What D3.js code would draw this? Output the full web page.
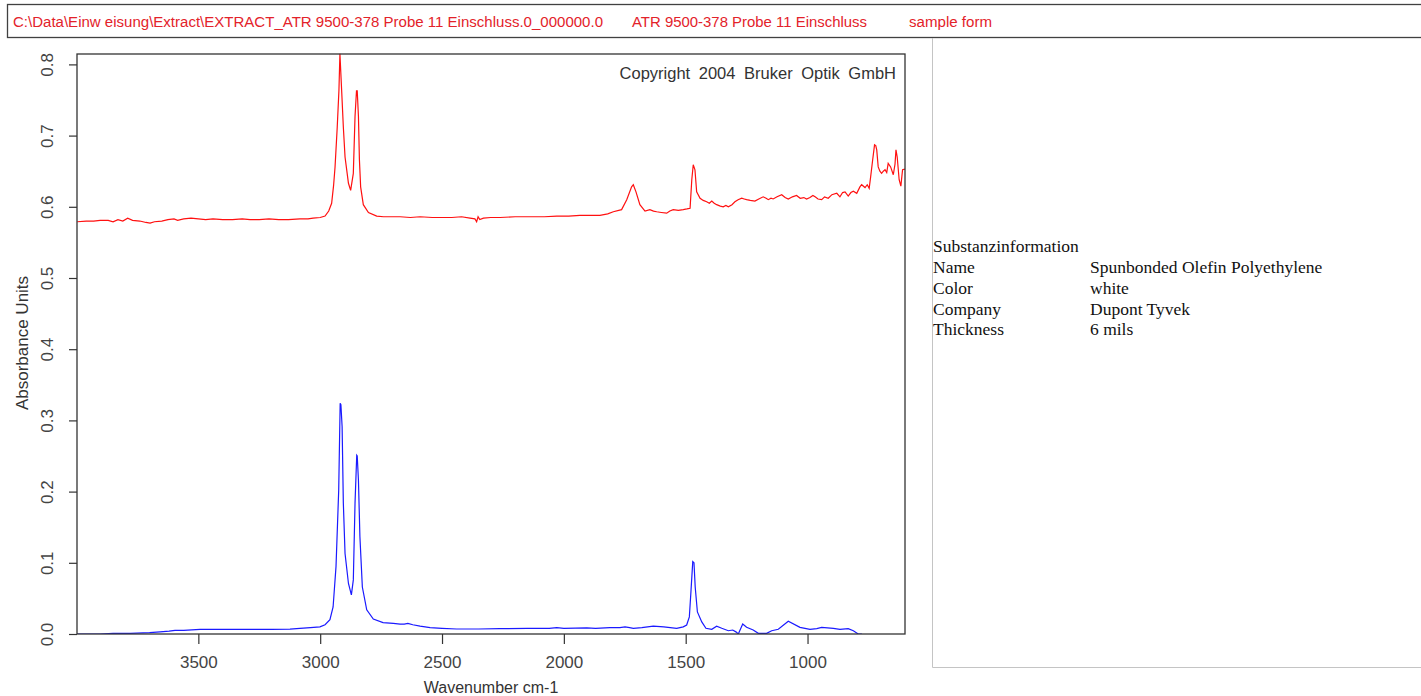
<!DOCTYPE html>
<html>
<head>
<meta charset="utf-8">
<script src="https://cdn.jsdelivr.net/npm/d3@7"></script>
<style>
  html, body { margin: 0; padding: 0; background: #fff; }
  svg { display: block; }
</style>
</head>
<body>
<div id="chart"></div>
<script>
// header line of the report
const headerTexts = [
  "C:\\Data\\Einw eisung\\Extract\\EXTRACT_ATR 9500-378 Probe 11 Einschluss.0_000000.0",
  "ATR 9500-378 Probe 11 Einschluss",
  "sample form"
];

// substance info panel
const infoTitle = "Substanzinformation";
const infoKeys = ["Name", "Color", "Company", "Thickness"];
const infoValues = ["Spunbonded Olefin Polyethylene", "white", "Dupont Tyvek", "6 mils"];

const xTicks = [3500, 3000, 2500, 2000, 1500, 1000];
const yTicks = [0.0, 0.1, 0.2, 0.3, 0.4, 0.5, 0.6, 0.7, 0.8];

// sample spectrum (red), [wavenumber, absorbance]
const redSpectrum = [
  [3997, 0.579], [3960, 0.580], [3930, 0.580], [3903, 0.581], [3870, 0.581], [3850, 0.579],
  [3830, 0.582], [3810, 0.580], [3790, 0.584], [3770, 0.581], [3740, 0.580], [3715, 0.578],
  [3698, 0.577], [3680, 0.579], [3650, 0.580], [3625, 0.582], [3600, 0.583], [3585, 0.581],
  [3560, 0.583], [3530, 0.584], [3500, 0.583], [3470, 0.582], [3440, 0.583], [3400, 0.582],
  [3360, 0.582], [3320, 0.583], [3288, 0.582], [3250, 0.582], [3210, 0.583], [3170, 0.582],
  [3130, 0.582], [3083, 0.583], [3050, 0.583], [3029, 0.584], [3000, 0.585], [2980, 0.587],
  [2965, 0.594], [2953, 0.605], [2945, 0.630], [2939, 0.656], [2930, 0.712], [2923, 0.764],
  [2919, 0.815], [2912, 0.764], [2905, 0.712], [2898, 0.670], [2884, 0.633], [2875, 0.623],
  [2864, 0.647], [2857, 0.727], [2851, 0.763], [2848, 0.763], [2843, 0.727], [2839, 0.666],
  [2834, 0.628], [2823, 0.603], [2802, 0.592], [2768, 0.587], [2740, 0.586], [2700, 0.586],
  [2672, 0.586], [2630, 0.585], [2590, 0.586], [2540, 0.585], [2500, 0.585], [2460, 0.585],
  [2420, 0.586], [2385, 0.584], [2365, 0.583], [2358, 0.579], [2352, 0.586], [2345, 0.582],
  [2330, 0.584], [2300, 0.585], [2262, 0.585], [2200, 0.586], [2140, 0.586], [2080, 0.586],
  [2029, 0.587], [1980, 0.587], [1934, 0.588], [1890, 0.588], [1852, 0.588], [1820, 0.590],
  [1797, 0.593], [1763, 0.596], [1742, 0.610], [1722, 0.628], [1715, 0.631], [1704, 0.621],
  [1688, 0.603], [1667, 0.594], [1647, 0.596], [1632, 0.594], [1619, 0.593], [1600, 0.592],
  [1578, 0.591], [1565, 0.594], [1551, 0.596], [1530, 0.595], [1510, 0.596], [1495, 0.597],
  [1482, 0.598], [1475, 0.638], [1469, 0.659], [1462, 0.652], [1455, 0.621], [1441, 0.612],
  [1428, 0.609], [1414, 0.607], [1403, 0.605], [1393, 0.608], [1383, 0.605], [1373, 0.603],
  [1358, 0.601], [1346, 0.600], [1335, 0.602], [1325, 0.600], [1310, 0.603], [1298, 0.607],
  [1285, 0.610], [1270, 0.612], [1260, 0.611], [1250, 0.610], [1235, 0.609], [1216, 0.608],
  [1200, 0.611], [1182, 0.614], [1170, 0.612], [1161, 0.610], [1150, 0.612], [1141, 0.611],
  [1125, 0.614], [1106, 0.617], [1092, 0.613], [1079, 0.611], [1062, 0.614], [1045, 0.616],
  [1030, 0.612], [1015, 0.613], [1004, 0.611], [990, 0.613], [978, 0.616], [969, 0.614],
  [957, 0.611], [942, 0.610], [930, 0.614], [915, 0.612], [900, 0.617], [880, 0.619],
  [867, 0.614], [856, 0.620], [846, 0.621], [833, 0.615], [822, 0.620], [812, 0.622],
  [798, 0.619], [785, 0.628], [778, 0.631], [764, 0.627], [755, 0.631], [747, 0.626],
  [741, 0.642], [733, 0.665], [725, 0.687], [720, 0.686], [716, 0.680], [710, 0.656],
  [703, 0.650], [696, 0.647], [689, 0.650], [682, 0.652], [675, 0.648], [669, 0.661],
  [659, 0.656], [648, 0.645], [641, 0.660], [637, 0.680], [632, 0.670], [624, 0.638],
  [617, 0.629], [610, 0.652], [600, 0.653]
];

// reference spectrum (blue), [wavenumber, absorbance]
const blueSpectrum = [
  [3997, 0.000], [3903, 0.000], [3850, 0.001], [3780, 0.001], [3700, 0.002], [3657, 0.003],
  [3620, 0.004], [3596, 0.005], [3560, 0.005], [3493, 0.0065], [3400, 0.0065], [3288, 0.0065],
  [3200, 0.0066], [3124, 0.0068], [3083, 0.008], [3040, 0.009], [3001, 0.010], [2980, 0.013],
  [2960, 0.020], [2947, 0.038], [2935, 0.095], [2924, 0.202], [2918, 0.324], [2915, 0.322],
  [2910, 0.291], [2905, 0.184], [2898, 0.113], [2884, 0.071], [2872, 0.055], [2864, 0.076],
  [2857, 0.184], [2850, 0.251], [2848, 0.250], [2843, 0.216], [2837, 0.137], [2827, 0.066],
  [2809, 0.034], [2782, 0.021], [2742, 0.016], [2700, 0.015], [2672, 0.014], [2655, 0.014],
  [2640, 0.015], [2620, 0.013], [2590, 0.011], [2549, 0.009], [2500, 0.008], [2440, 0.007],
  [2350, 0.007], [2262, 0.0075], [2150, 0.008], [2060, 0.008], [2029, 0.009], [2000, 0.008],
  [1906, 0.0085], [1870, 0.008], [1811, 0.009], [1770, 0.009], [1749, 0.010], [1730, 0.009],
  [1715, 0.008], [1680, 0.009], [1633, 0.011], [1590, 0.010], [1537, 0.008], [1510, 0.010],
  [1496, 0.0126], [1485, 0.024], [1478, 0.062], [1471, 0.1016], [1466, 0.100], [1461, 0.066],
  [1452, 0.031], [1434, 0.017], [1417, 0.008], [1393, 0.0066], [1373, 0.011], [1352, 0.008],
  [1325, 0.0046], [1307, 0.0056], [1294, 0.003], [1284, 0.000], [1266, 0.014], [1250, 0.0094],
  [1223, 0.0056], [1202, 0.001], [1168, 0.001], [1147, 0.0046], [1120, 0.0066], [1079, 0.018],
  [1031, 0.0094], [990, 0.0066], [962, 0.0075], [942, 0.0094], [894, 0.008], [867, 0.0066],
  [833, 0.0075], [812, 0.0046], [792, 0.000], [777, 0.000]
];

const W = 1421, H = 696;
const plot = { left: 77, right: 905, top: 54, bottom: 634 };

const svg = d3.select("#chart").append("svg")
    .attr("width", W)
    .attr("height", H)
    .style("font-family", "'Liberation Sans', Arial, sans-serif");

// header box
svg.append("rect")
    .attr("x", 7.5).attr("y", 4.5)
    .attr("width", W + 10).attr("height", 33)
    .attr("fill", "none")
    .attr("stroke", "#404040")
    .attr("stroke-width", 1.3);

const headerX = [13, 632, 909];
const headerLen = [590, 235, 83];
svg.selectAll(".hdr")
  .data(headerTexts)
  .enter().append("text")
    .attr("class", "hdr")
    .attr("x", (d, i) => headerX[i])
    .attr("y", 27)
    .attr("textLength", (d, i) => headerLen[i])
    .attr("lengthAdjust", "spacingAndGlyphs")
    .style("font-size", "14px")
    .style("fill", "#e3222a")
    .text(d => d);

// info panel
svg.append("path")
    .attr("d", "M932.5,38 V667.5 H" + (W + 2))
    .attr("fill", "none")
    .attr("stroke", "#c4c4c4")
    .attr("stroke-width", 1);

const infoFont = "'Liberation Serif', 'Times New Roman', serif";
svg.append("text")
    .attr("x", 933).attr("y", 252)
    .style("font-family", infoFont)
    .style("font-size", "17.5px")
    .style("fill", "#111")
    .text(infoTitle);

const rowY = [273, 294, 314.5, 335];
svg.selectAll(".ikey")
  .data(infoKeys)
  .enter().append("text")
    .attr("x", 933)
    .attr("y", (d, i) => rowY[i])
    .style("font-family", infoFont)
    .style("font-size", "17.5px")
    .style("fill", "#111")
    .text(d => d);

svg.selectAll(".ival")
  .data(infoValues)
  .enter().append("text")
    .attr("x", 1090)
    .attr("y", (d, i) => rowY[i])
    .style("font-family", infoFont)
    .style("font-size", "17.5px")
    .style("fill", "#111")
    .text(d => d);

// scales
const x = d3.scaleLinear()
    .domain([3998, 600])
    .range([plot.left, plot.right]);

const y = d3.scaleLinear()
    .domain([0, 0.8146])
    .range([plot.bottom, plot.top]);

svg.append("clipPath").attr("id", "clip")
  .append("rect")
    .attr("x", plot.left).attr("y", plot.top - 1)
    .attr("width", plot.right - plot.left)
    .attr("height", plot.bottom - plot.top + 1);

const line = d3.line()
    .x(d => x(d[0]))
    .y(d => y(d[1]));

svg.append("path")
    .datum(blueSpectrum)
    .attr("clip-path", "url(#clip)")
    .attr("fill", "none")
    .attr("stroke", "#1a1aff")
    .attr("stroke-width", 1.2)
    .attr("d", line);

svg.append("path")
    .datum(redSpectrum)
    .attr("clip-path", "url(#clip)")
    .attr("fill", "none")
    .attr("stroke", "#ff1010")
    .attr("stroke-width", 1.2)
    .attr("d", line);

// axes
const xAxis = svg.append("g")
    .attr("transform", "translate(0," + plot.bottom + ")")
    .call(d3.axisBottom(x).tickValues(xTicks).tickSize(10).tickSizeOuter(0).tickFormat(d3.format("d")));
xAxis.select(".domain").remove();
xAxis.selectAll("line").attr("stroke", "#333").attr("stroke-width", 1.2);
xAxis.selectAll("text")
    .attr("y", 34).attr("dy", 0)
    .style("font-family", "'Liberation Sans', Arial, sans-serif")
    .style("font-size", "17px")
    .style("fill", "#444");

const yAxis = svg.append("g")
    .attr("transform", "translate(" + plot.left + ",0)")
    .call(d3.axisLeft(y).tickValues(yTicks).tickSize(8).tickSizeOuter(0).tickFormat(d3.format(".1f")));
yAxis.select(".domain").remove();
yAxis.selectAll("line").attr("stroke", "#333").attr("stroke-width", 1.2);
yAxis.selectAll("text")
    .attr("x", null).attr("dy", null)
    .attr("transform", "translate(-24,0) rotate(-90)")
    .style("text-anchor", "middle")
    .style("font-family", "'Liberation Sans', Arial, sans-serif")
    .style("font-size", "17px")
    .style("fill", "#444");

// plot frame
svg.append("rect")
    .attr("x", plot.left).attr("y", plot.top)
    .attr("width", plot.right - plot.left)
    .attr("height", plot.bottom - plot.top)
    .attr("fill", "none")
    .attr("stroke", "#333")
    .attr("stroke-width", 1.3);

// axis titles
svg.append("text")
    .attr("x", 491).attr("y", 693)
    .style("text-anchor", "middle")
    .style("font-size", "16px")
    .style("fill", "#333")
    .text("Wavenumber cm-1");

svg.append("text")
    .attr("transform", "translate(28,343) rotate(-90)")
    .style("text-anchor", "middle")
    .style("font-size", "17px")
    .style("fill", "#333")
    .text("Absorbance Units");

svg.append("text")
    .attr("x", 896).attr("y", 79)
    .style("text-anchor", "end")
    .style("font-size", "16.5px")
    .style("word-spacing", "4px")
    .style("fill", "#333")
    .text("Copyright 2004 Bruker Optik GmbH");
</script>
</body>
</html>
